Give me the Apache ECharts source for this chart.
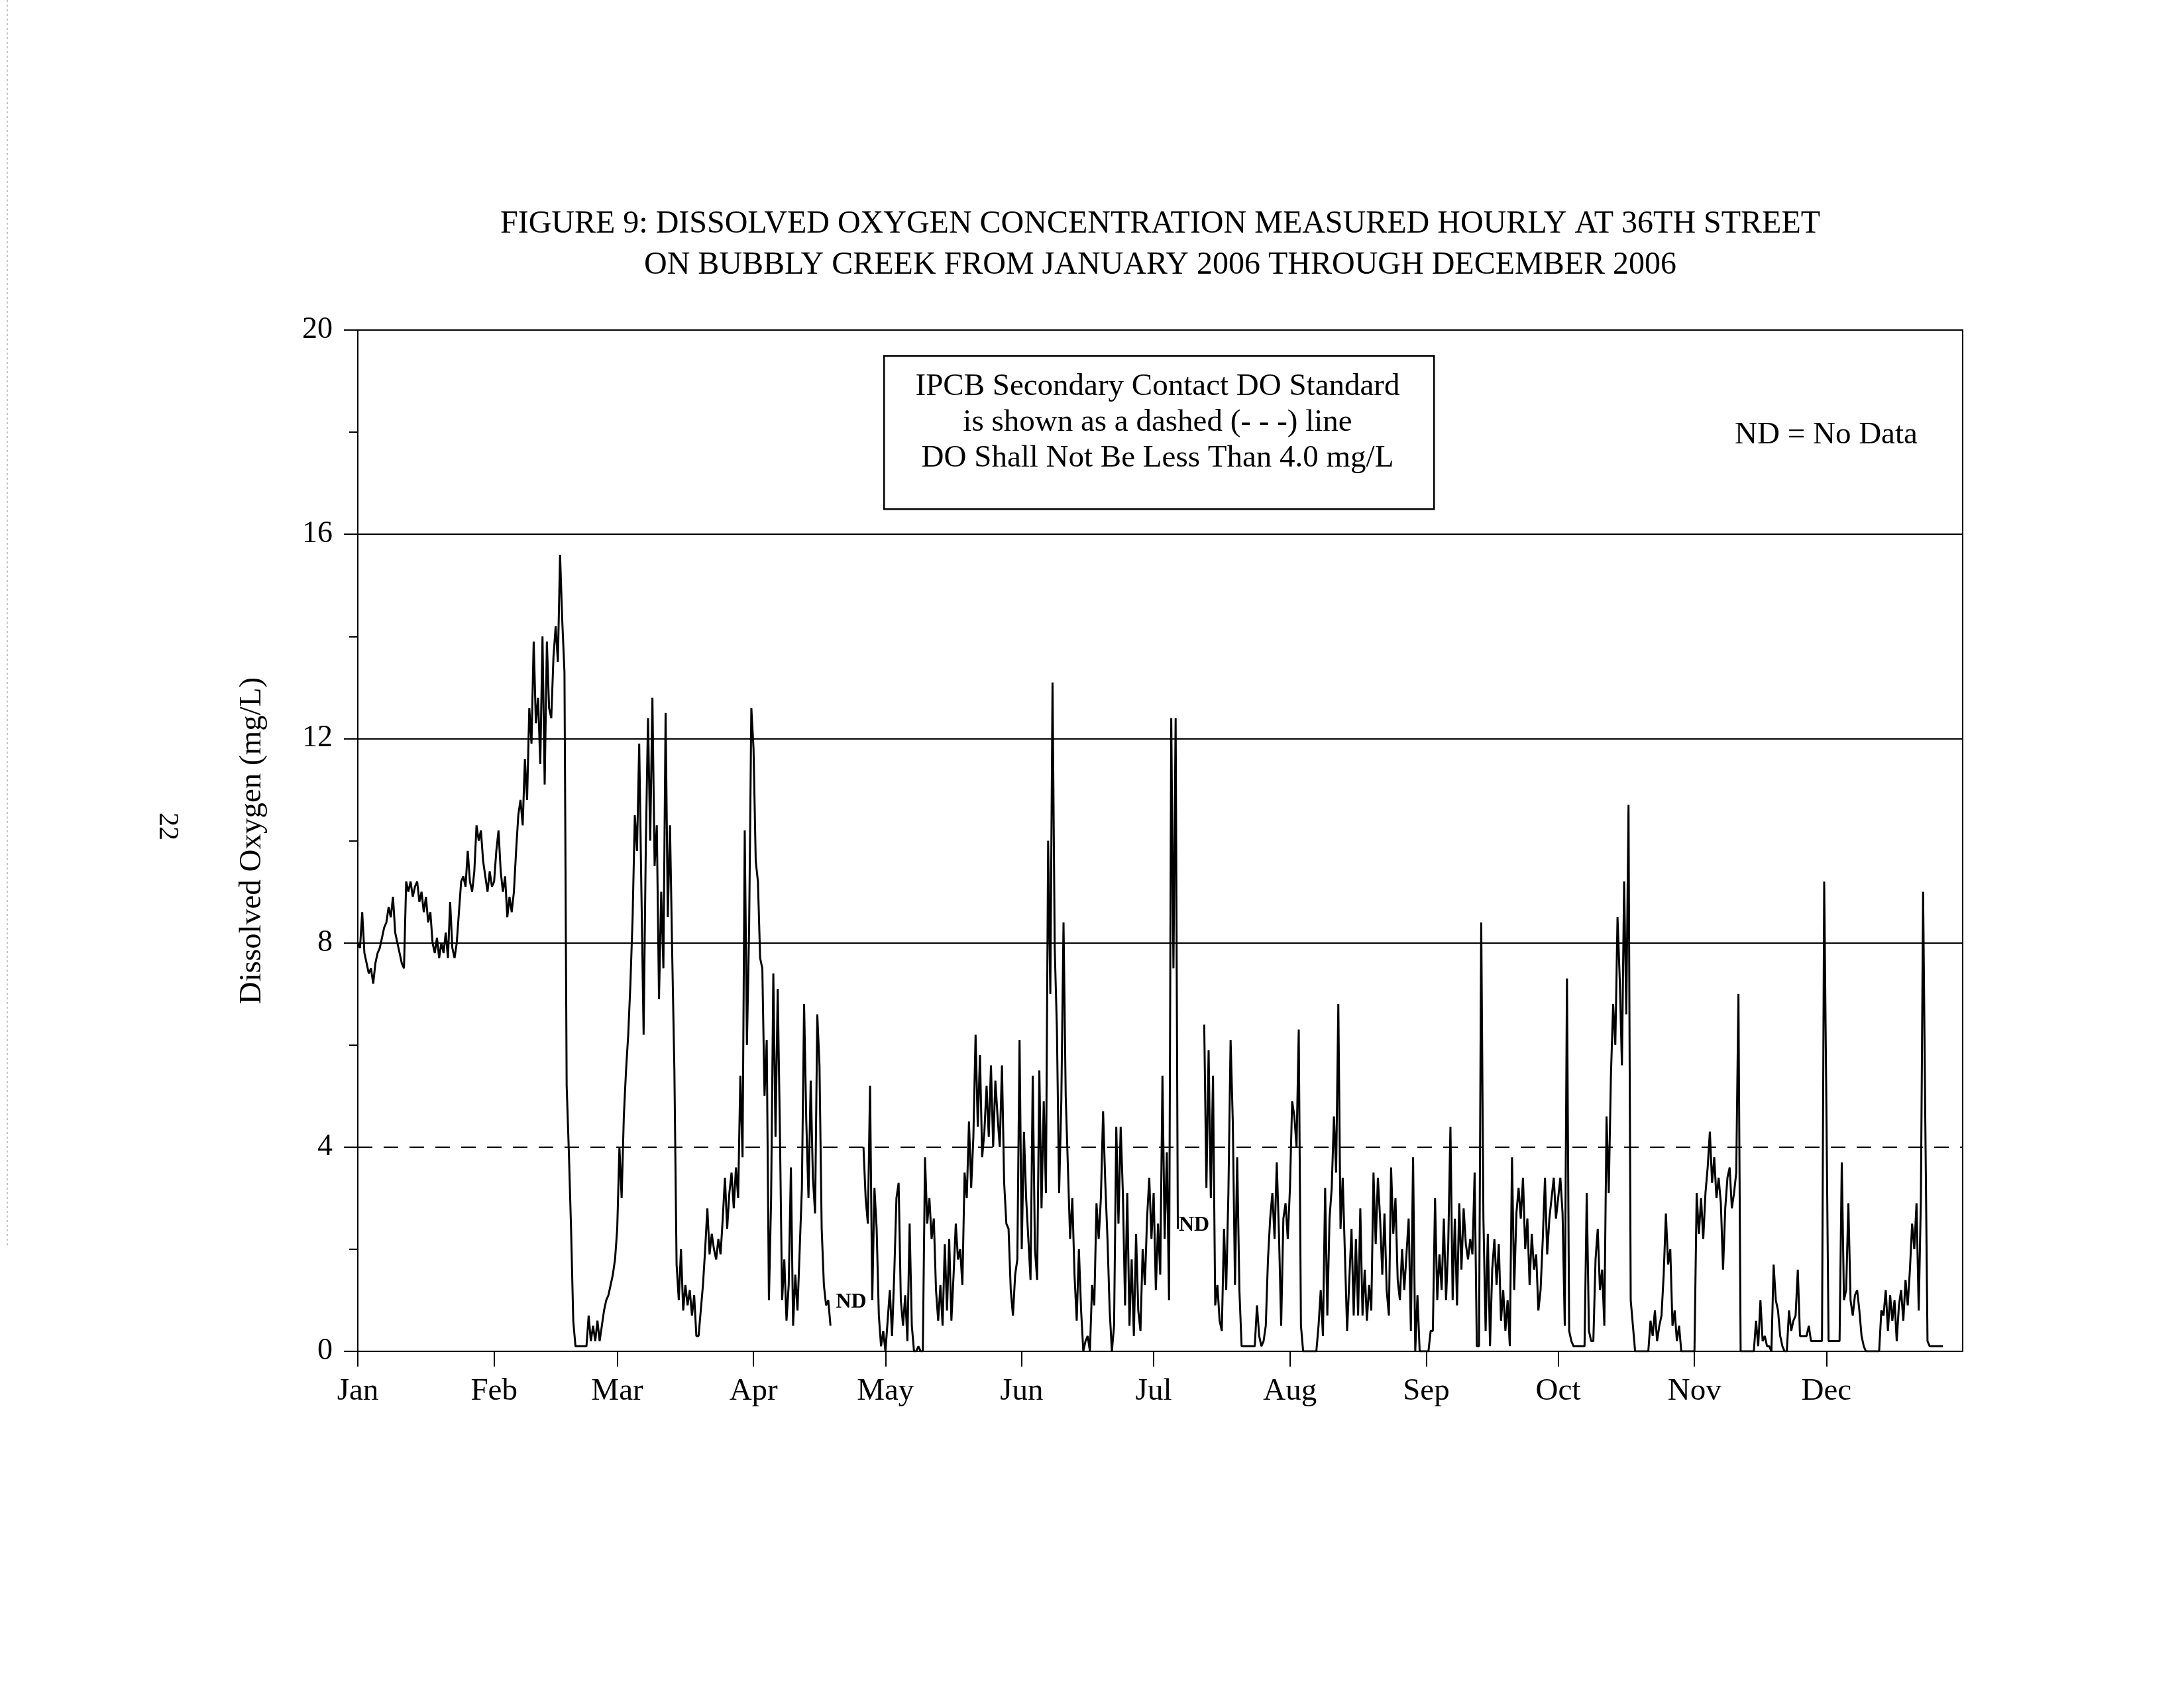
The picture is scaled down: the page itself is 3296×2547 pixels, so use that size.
<!DOCTYPE html>
<html>
<head>
<meta charset="utf-8">
<script src="https://cdn.jsdelivr.net/npm/echarts@6/dist/echarts.min.js"></script>
<style>
html,body{margin:0;padding:0;background:#fff;}
#chart{width:3296px;height:2547px;}
</style>
</head>
<body>
<div id="chart"></div>
<script>
// Tick labels and category anchors
const monthLabels = ['Jan','Feb','Mar','Apr','May','Jun','Jul','Aug','Sep','Oct','Nov','Dec'];
const monthStartDays = [0,31,59,90,120,151,181,212,243,273,304,334];
const yearDays = 365;
const doStandard = 4.0;
const gridLevels = [8, 12, 16];

// Dissolved oxygen (mg/L), two readings per day (00:00, 12:00); null = No Data
const jan = [8.0,7.9, 8.6,7.8, 7.6,7.4, 7.5,7.2, 7.6,7.8, 7.9,8.1, 8.3,8.4, 8.7,8.5, 8.9,8.2, 8.0,7.8,
  7.6,7.5, 9.2,9.0, 9.2,8.9, 9.1,9.2, 8.8,9.0, 8.6,8.9, 8.4,8.6, 8.0,7.8, 8.1,7.7, 8.0,7.8,
  8.2,7.7, 8.8,7.9, 7.7,8.0, 8.6,9.2, 9.3,9.1, 9.8,9.2, 9.0,9.4, 10.3,10.0, 10.2,9.6, 9.3,9.0,
  9.4,9.1];
const feb = [9.2,9.8, 10.2,9.4, 9.0,9.3, 8.5,8.9, 8.6,9.0, 9.8,10.5, 10.8,10.3, 11.6,10.8, 12.6,11.9, 13.9,12.3,
  12.8,11.5, 14.0,11.1, 13.9,12.6, 12.4,13.6, 14.2,13.5, 15.6,14.3, 13.3,5.2, 3.9,2.4, 0.6,0.1, 0.1,0.1,
  0.1,0.1, 0.1,0.7, 0.2,0.5, 0.2,0.6, 0.2,0.5, 0.8,1.0, 1.1,1.3, 1.5,1.8];
const mar = [2.4,4.0, 3.0,4.6, 5.5,6.2, 7.2,8.5, 10.5,9.8, 11.9,9.0, 6.2,9.9, 12.4,10.0, 12.8,9.5, 10.3,6.9,
  9.0,7.5, 12.5,8.5, 10.3,7.8, 5.5,1.7, 1.0,2.0, 0.8,1.3, 0.9,1.2, 0.7,1.1, 0.3,0.3, 0.8,1.3,
  2.0,2.8, 1.9,2.3, 2.0,1.8, 2.2,1.9, 2.6,3.4, 2.4,3.1, 3.5,2.8, 3.6,3.0, 5.4,3.8, 10.2,6.0,
  8.3,12.6];
const apr = [11.8,9.6, 9.2,7.7, 7.5,5.0, 6.1,1.0, 3.0,7.4, 4.2,7.1, 4.3,1.0, 1.8,0.6, 1.3,3.6, 0.5,1.5,
  0.8,2.0, 3.2,6.8, 4.5,3.0, 5.3,3.4, 2.7,6.6, 5.6,2.4, 1.3,0.9, 1.0,0.5, null,null, null,null,
  null,null, null,null, null,null, null,null, null,null, 4.0,3.0, 2.5,5.2, 1.0,3.2, 2.4,0.7, 0.1,0.4];
const may = [0.0,0.6, 1.2,0.3, 1.5,3.0, 3.3,1.0, 0.5,1.1, 0.2,2.5, 0.5,0.0, 0.0,0.1, 0.0,0.0, 3.8,2.5,
  3.0,2.2, 2.6,1.2, 0.6,1.3, 0.5,2.1, 0.8,2.2, 0.6,1.5, 2.5,1.8, 2.0,1.3, 3.5,3.0, 4.5,3.2,
  4.2,6.2, 4.4,5.8, 3.8,4.3, 5.2,4.2, 5.6,4.0, 5.3,4.6, 4.0,5.6, 3.3,2.5, 2.4,1.2, 0.7,1.5,
  1.8,6.1];
const jun = [2.0,4.3, 3.0,2.2, 1.4,5.4, 2.0,1.4, 5.5,2.8, 4.9,3.1, 10.0,7.0, 13.1,7.9, 6.3,3.1, 4.9,8.4,
  5.0,3.6, 2.2,3.0, 1.5,0.6, 2.0,0.8, 0.0,0.2, 0.3,0.0, 1.3,0.9, 2.9,2.2, 3.0,4.7, 3.3,2.2,
  0.8,0.0, 0.5,4.4, 2.5,4.4, 3.1,0.9, 3.1,0.5, 1.8,0.3, 2.3,0.8, 0.4,2.0, 1.3,2.6, 3.4,2.2];
const jul = [3.1,1.2, 2.5,1.5, 5.4,2.2, 3.9,1.0, 12.4,7.5, 12.4,2.4, null,null, null,null, null,null, null,null,
  null,null, null,6.4, 3.2,5.9, 3.0,5.4, 0.9,1.3, 0.6,0.4, 2.4,1.2, 3.1,6.1, 4.5,1.3, 3.8,1.2,
  0.1,0.1, 0.1,0.1, 0.1,0.1, 0.1,0.9, 0.3,0.1, 0.2,0.5, 1.8,2.6, 3.1,2.2, 3.7,2.3, 0.5,2.6,
  2.9,2.2];
const aug = [3.2,4.9, 4.6,4.0, 6.3,0.5, 0.0,0.0, 0.0,0.0, 0.0,0.0, 0.0,0.5, 1.2,0.3, 3.2,0.7, 2.6,3.2,
  4.6,3.5, 6.8,2.4, 3.4,1.9, 0.4,1.4, 2.4,0.7, 2.2,0.7, 2.8,0.7, 1.6,0.6, 1.3,0.8, 3.5,2.1,
  3.4,2.6, 1.5,2.7, 1.2,0.7, 3.6,2.3, 3.0,1.4, 1.0,2.0, 1.2,1.9, 2.6,0.4, 3.8,0.0, 1.1,0.0,
  0.0,0.0];
const sep = [0.0,0.0, 0.4,0.4, 3.0,1.0, 1.9,1.2, 2.6,1.0, 2.1,4.4, 1.0,2.6, 0.9,2.9, 1.6,2.8, 2.1,1.8,
  2.2,1.9, 3.5,0.1, 0.1,8.4, 2.6,0.4, 2.3,0.1, 1.6,2.2, 1.3,2.1, 0.6,1.2, 0.4,1.0, 0.1,3.8,
  1.2,2.7, 3.2,2.6, 3.4,2.0, 2.6,1.3, 2.3,1.6, 1.9,0.8, 1.2,2.2, 3.4,1.9, 2.6,3.0, 3.4,2.6];
const oct = [3.0,3.4, 2.7,0.5, 7.3,0.4, 0.2,0.1, 0.1,0.1, 0.1,0.1, 0.1,3.1, 0.4,0.2, 0.2,1.8, 2.4,1.2,
  1.6,0.5, 4.6,3.1, 5.4,6.8, 6.0,8.5, 7.3,5.6, 9.2,6.6, 10.7,1.0, 0.5,0.0, 0.0,0.0, 0.0,0.0,
  0.0,0.0, 0.6,0.3, 0.8,0.2, 0.5,0.7, 1.5,2.7, 1.7,2.0, 0.5,0.8, 0.2,0.5, 0.0,0.0, 0.0,0.0,
  0.0,0.0];
const nov = [0.0,3.1, 2.3,3.0, 2.2,3.1, 3.6,4.3, 3.3,3.8, 3.0,3.4, 2.9,1.6, 2.8,3.4, 3.6,2.8, 3.1,3.5,
  7.0,0.0, 0.0,0.0, 0.0,0.0, 0.0,0.0, 0.6,0.1, 1.0,0.2, 0.3,0.1, 0.1,0.0, 1.7,1.0, 0.8,0.3,
  0.1,0.0, 0.0,0.8, 0.4,0.6, 0.7,1.6, 0.3,0.3, 0.3,0.3, 0.5,0.2, 0.2,0.2, 0.2,0.2, 0.2,9.2];
const dec = [4.8,0.2, 0.2,0.2, 0.2,0.2, 0.2,3.7, 1.0,1.2, 2.9,1.0, 0.7,1.1, 1.2,0.8, 0.3,0.1, 0.0,0.0,
  0.0,0.0, 0.0,0.0, 0.0,0.8, 0.7,1.2, 0.4,1.1, 0.6,1.0, 0.2,0.9, 1.2,0.6, 1.4,0.9, 1.6,2.5,
  2.0,2.9, 0.8,3.0, 9.0,4.5, 0.2,0.1, 0.1,0.1, 0.1,0.1, 0.1,0.1, null,null, null,null, null,null,
  null,null];

// "ND" annotation anchors (day of year, mg/L)
const noDataNotes = [[112.2, 0.97], [190.2, 2.47]];

const monthly = [jan, feb, mar, apr, may, jun, jul, aug, sep, oct, nov, dec];
const points = [];
monthly.forEach((arr, m) => {
  arr.forEach((v, i) => {
    points.push([monthStartDays[m] + i * 0.5, v === null ? '-' : v]);
  });
});

const FONT = 'Liberation Serif';
const chart = echarts.init(document.getElementById('chart'), null, {renderer: 'canvas'});

const option = {
  backgroundColor: '#fff',
  animation: false,
  title: {
    text: 'FIGURE 9: DISSOLVED OXYGEN CONCENTRATION MEASURED HOURLY AT 36TH STREET\nON BUBBLY CREEK FROM JANUARY 2006 THROUGH DECEMBER 2006',
    left: 1746,
    top: 302,
    textAlign: 'center',
    textStyle: {fontFamily: FONT, fontSize: 48, fontWeight: 'normal', color: '#000', lineHeight: 62}
  },
  grid: {
    left: 540, right: 334, top: 498, bottom: 508,
    show: true, borderColor: '#000', borderWidth: 2, backgroundColor: 'transparent'
  },
  xAxis: {
    type: 'value', min: 0, max: yearDays,
    axisLine: {show: true, onZero: false, lineStyle: {color: '#000', width: 2}},
    axisTick: {show: true, customValues: monthStartDays, length: 23, lineStyle: {color: '#000', width: 2}},
    axisLabel: {
      customValues: monthStartDays,
      formatter: function (v) { const i = monthStartDays.indexOf(Math.round(v)); return i >= 0 ? monthLabels[i] : ''; },
      fontFamily: FONT, fontSize: 47, color: '#000', margin: 37
    },
    splitLine: {show: false}
  },
  yAxis: {
    type: 'value', min: 0, max: 20, interval: 4,
    axisLine: {show: true, lineStyle: {color: '#000', width: 2}},
    axisTick: {show: true, length: 21, lineStyle: {color: '#000', width: 2}},
    minorTick: {show: true, splitNumber: 2, length: 13, lineStyle: {color: '#000', width: 2}},
    splitLine: {show: false},
    axisLabel: {fontFamily: FONT, fontSize: 46, color: '#000', margin: 38},
    name: 'Dissolved Oxygen (mg/L)',
    nameLocation: 'middle',
    nameGap: 136,
    nameTextStyle: {fontFamily: FONT, fontSize: 47, color: '#000'}
  },
  series: [{
    type: 'line',
    data: points,
    showSymbol: false,
    connectNulls: false,
    lineStyle: {color: '#000', width: 3},
    z: 3,
    markLine: {
      silent: true,
      symbol: 'none',
      label: {show: false},
      animation: false,
      data: gridLevels.map(v => ({yAxis: v, lineStyle: {color: '#000', width: 2, type: 'solid'}}))
        .concat([{yAxis: doStandard, lineStyle: {color: '#000', width: 2, type: [22, 17]}}])
    },
    markPoint: {
      silent: true,
      symbol: 'circle',
      symbolSize: 0,
      label: {show: true, formatter: 'ND', position: 'inside', fontFamily: FONT, fontWeight: 'bold', fontSize: 32, color: '#000'},
      data: noDataNotes.map(c => ({coord: c}))
    }
  }],
  graphic: [
    {
      type: 'rect', left: 1333, top: 536, z: 10,
      shape: {width: 830, height: 231},
      style: {fill: '#fff', stroke: '#000', lineWidth: 2.5}
    },
    {
      type: 'text', z: 11, x: 1747, y: 638,
      style: {
        text: 'IPCB Secondary Contact DO Standard\nis shown as a dashed (- - -) line\nDO Shall Not Be Less Than 4.0 mg/L',
        fontFamily: FONT, fontSize: 47, fill: '#000', align: 'center', verticalAlign: 'middle', lineHeight: 54
      }
    },
    {
      type: 'text', z: 11, x: 2756, y: 657,
      style: {text: 'ND = No Data', fontFamily: FONT, fontSize: 47, fill: '#000', align: 'center', verticalAlign: 'middle'}
    },
    {
      type: 'text', z: 11, x: 252, y: 1247, rotation: -Math.PI / 2,
      style: {text: '22', fontFamily: FONT, fontSize: 42, fill: '#000', align: 'center', verticalAlign: 'middle'}
    },
    {
      type: 'line', z: 1,
      shape: {x1: 11, y1: 0, x2: 11, y2: 1880},
      style: {stroke: '#b0b0b0', lineWidth: 1.5, lineDash: [3, 4]}
    }
  ]
};
chart.setOption(option);
</script>
</body>
</html>
